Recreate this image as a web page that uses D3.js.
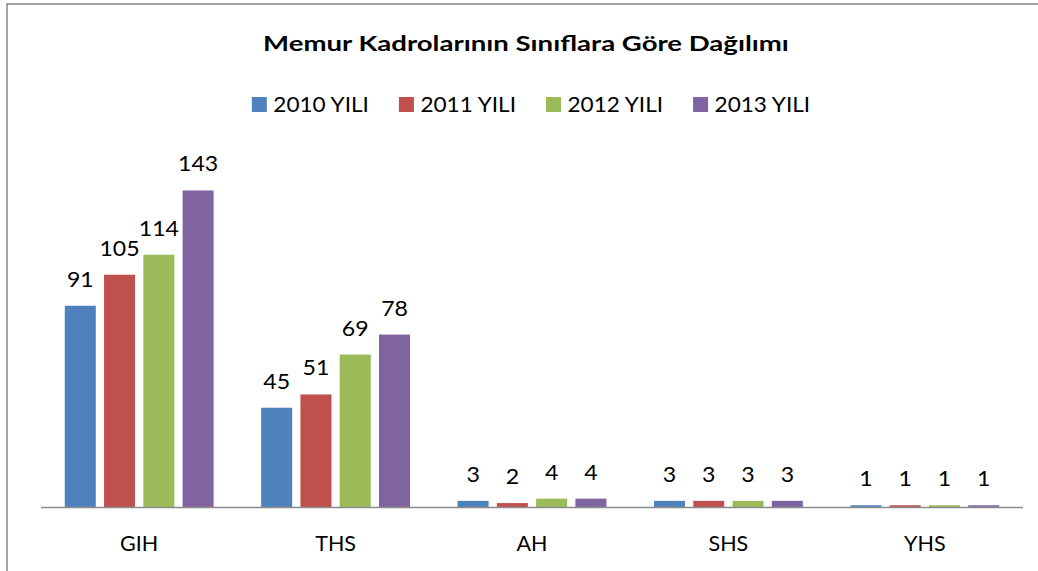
<!DOCTYPE html>
<html><head><meta charset="utf-8">
<script src="https://cdn.jsdelivr.net/npm/d3@7"></script>
<style>
html,body{margin:0;padding:0;background:#fff;}
svg{display:block;font-family:Lato,"Open Sans",sans-serif;}
</style></head>
<body>
<svg id="c" width="1038" height="571"></svg>
<script>
const categories = ["GIH","THS","AH","SHS","YHS"];
const seriesNames = ["2010 YILI","2011 YILI","2012 YILI","2013 YILI"];
const v2010 = [91,45,3,3,1];
const v2011 = [105,51,2,3,1];
const v2012 = [114,69,4,3,1];
const v2013 = [143,78,4,3,1];
const seriesValues = [v2010,v2011,v2012,v2013];
const colors = ["#4F81BD","#C0504D","#9BBB59","#8064A2"];
const title = "Memur Kadrolarının Sınıflara Göre Dağılımı";

const svg = d3.select("#c");
// chart frame
svg.append("rect").attr("x",7).attr("y",4).attr("width",1040).attr("height",600)
  .attr("fill","#fff").attr("stroke","#898989").attr("stroke-width",1.5);

const left=41, right=1023, base=507.5;
const x0 = d3.scaleBand().domain(categories).range([left,right]).padding(0);
const cw = x0.bandwidth();
const x1 = d3.scaleBand().domain(seriesNames).range([cw*0.1, cw*0.9]).paddingInner(0.21).paddingOuter(0.105);
const y = d3.scaleLinear().domain([0,160]).range([base,152.8]);

function stretchText(sel, x, yy, sx){
  return sel.attr("transform",`translate(${x},${yy}) scale(${sx},1)`);
}

const g = svg.append("g");
seriesNames.forEach((s,si)=>{
  const gs = g.append("g");
  categories.forEach((c,ci)=>{
    const v = seriesValues[si][ci];
    const bx = x0(c)+x1(s);
    gs.append("rect").attr("x",bx).attr("y",y(v)).attr("width",x1.bandwidth()).attr("height",base-y(v))
      .attr("fill",colors[si]);
    stretchText(gs.append("text"), bx+x1.bandwidth()/2, y(v)-19, 1.1)
      .attr("text-anchor","middle").attr("font-size",21).attr("fill","#000").text(v);
  });
});

// axis
const ax = svg.append("g").attr("transform",`translate(0,${base})`)
  .call(d3.axisBottom(x0).tickSize(0).tickPadding(0));
ax.select(".domain").attr("stroke","#8c8c8c").attr("stroke-width",1.5).attr("d",`M${left},0H${right}`);
ax.selectAll("text").attr("font-family","Lato,sans-serif").attr("font-size",21.5).attr("fill","#000")
  .attr("dy",null).attr("y",43.5);

// title
stretchText(svg.append("text"), 526, 51, 1.3).attr("text-anchor","middle")
  .attr("font-size",21.2).attr("font-weight","bold").attr("fill","#000").text(title);

// legend
const lg = svg.append("g");
let xpos = 0;
const legSx = 1.075;
seriesNames.forEach((s,i)=>{
  const it = lg.append("g");
  it.append("rect").attr("x",0).attr("y",-7.5).attr("width",15).attr("height",15).attr("fill",colors[i]);
  const t = stretchText(it.append("text"), 21.5, 7.5, legSx).attr("font-size",21).attr("fill","#000").text(s);
  const w = 21.5 + t.node().getComputedTextLength()*legSx;
  it.attr("transform",`translate(${xpos},0)`);
  xpos += w + 30;
});
const totalW = xpos - 30;
lg.attr("transform",`translate(${531-totalW/2},104.5)`);
</script>
</body></html>
